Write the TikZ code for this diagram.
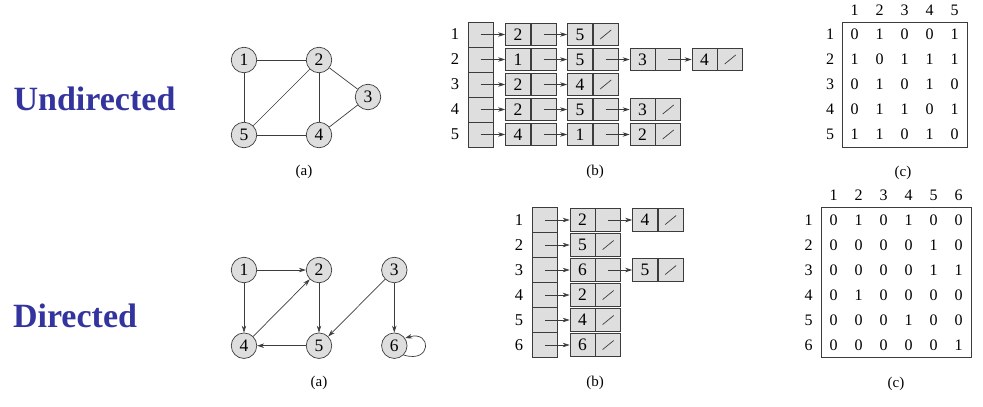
\documentclass[tikz,border=0pt]{standalone}
\usepackage{fontspec}
\setmainfont{Liberation Serif}
\usetikzlibrary{arrows.meta}
\definecolor{titleblue}{RGB}{52,52,158}
\definecolor{cellgray}{RGB}{222,222,222}
\definecolor{linegray}{RGB}{60,60,60}
\tikzset{
  vtx/.style={circle, draw=linegray, fill=cellgray, line width=0.7pt, minimum size=25.5pt, inner sep=0pt, font=\fontsize{17.5}{17.5}\selectfont},
  edg/.style={draw=linegray, line width=0.7pt},
  arr/.style={draw=linegray, line width=0.7pt, -{Stealth[length=7pt,width=4.5pt]}},
  lcell/.style={draw=linegray, fill=cellgray, line width=0.7pt, minimum width=25pt, minimum height=22.5pt, inner sep=0pt, font=\fontsize{17.5}{17.5}\selectfont},
  acell/.style={draw=linegray, fill=cellgray, line width=0.7pt, minimum width=25pt, minimum height=25pt, inner sep=0pt},
  slashline/.style={draw=linegray, line width=0.7pt},
  lbl/.style={font=\fontsize{16.5}{16.5}\selectfont, inner sep=0pt},
  mval/.style={font=\fontsize{16}{16}\selectfont, inner sep=0pt},
  captxt/.style={font=\fontsize{15}{15}\selectfont, inner sep=0pt},
  ttl/.style={font=\fontsize{34}{40}\selectfont\bfseries, text=titleblue, inner sep=0pt, anchor=base},
}
% list element: name, x of value cell center, y, value
\newcommand{\lstcell}[4]{%
  \node[lcell] (#1v) at (#2,#3) {#4};
  \node[lcell, anchor=west] (#1p) at (#1v.east) {};
}
\newcommand{\nilmark}[1]{\draw[slashline] (#1p.center) +(-5.5,4.5) -- +(5.5,-4.5);}
\begin{document}
\begin{tikzpicture}[x=1pt,y=-1pt]
\useasboundingbox (0,0) rectangle (983,407);

% ---------- titles ----------
\node[ttl] (tu) at (94.5,110.7) {Undirected};
\node[ttl] (td) at (75,327.7) {Directed};

% ---------- undirected graph ----------
\node[vtx] (u1) at (244,60) {1};
\node[vtx] (u2) at (319,60) {2};
\node[vtx] (u3) at (368,97) {3};
\node[vtx] (u5) at (244,135) {5};
\node[vtx] (u4) at (319,135) {4};
\draw[edg] (u1) -- (u2);
\draw[edg] (u1) -- (u5);
\draw[edg] (u2) -- (u5);
\draw[edg] (u2) -- (u4);
\draw[edg] (u2) -- (u3);
\draw[edg] (u3) -- (u4);
\draw[edg] (u5) -- (u4);
\node[captxt] (ua) at (304,172) {(a)};

% ---------- undirected adjacency list ----------
\foreach \r in {1,...,5}{
  \node[lbl] (ur\r) at (455,{9.5+25*\r}) {\r};
  \node[acell] (ua\r) at (480.5,{9.5+25*\r}) {};
}
\lstcell{ua1a}{518}{34.5}{2}
\lstcell{ua1b}{580}{34.5}{5}
\nilmark{ua1b}
\draw[arr] (ua1.center) -- (ua1av.west);
\draw[arr] (ua1ap.center) -- (ua1bv.west);

\lstcell{ua2a}{518}{59.5}{1}
\lstcell{ua2b}{580}{59.5}{5}
\lstcell{ua2c}{642.5}{59.5}{3}
\lstcell{ua2d}{704.5}{59.5}{4}
\nilmark{ua2d}
\draw[arr] (ua2.center) -- (ua2av.west);
\draw[arr] (ua2ap.center) -- (ua2bv.west);
\draw[arr] (ua2bp.center) -- (ua2cv.west);
\draw[arr] (ua2cp.center) -- (ua2dv.west);

\lstcell{ua3a}{518}{84.5}{2}
\lstcell{ua3b}{580}{84.5}{4}
\nilmark{ua3b}
\draw[arr] (ua3.center) -- (ua3av.west);
\draw[arr] (ua3ap.center) -- (ua3bv.west);

\lstcell{ua4a}{518}{109.5}{2}
\lstcell{ua4b}{580}{109.5}{5}
\lstcell{ua4c}{642.5}{109.5}{3}
\nilmark{ua4c}
\draw[arr] (ua4.center) -- (ua4av.west);
\draw[arr] (ua4ap.center) -- (ua4bv.west);
\draw[arr] (ua4bp.center) -- (ua4cv.west);

\lstcell{ua5a}{518}{134.5}{4}
\lstcell{ua5b}{580}{134.5}{1}
\lstcell{ua5c}{642.5}{134.5}{2}
\nilmark{ua5c}
\draw[arr] (ua5.center) -- (ua5av.west);
\draw[arr] (ua5ap.center) -- (ua5bv.west);
\draw[arr] (ua5bp.center) -- (ua5cv.west);
\node[captxt] (ub) at (595,172) {(b)};

% ---------- undirected matrix ----------
\foreach \c in {1,...,5}{
  \node[mval] (uh\c) at ({829.5+25*\c},10) {\c};
}
\foreach \row [count=\r] in {{0,1,0,0,1},{1,0,1,1,1},{0,1,0,1,0},{0,1,1,0,1},{1,1,0,1,0}}{
  \node[mval] (umr\r) at (830,{9.5+25*\r}) {\r};
  \foreach \v [count=\c] in \row {
    \node[mval] (um\r-\c) at ({829.5+25*\c},{9.5+25*\r}) {\v};
  }
}
\draw[edg] (842,22) rectangle (967,147);
\node[captxt] (uc) at (903,173) {(c)};

% ---------- directed graph ----------
\node[vtx] (d1) at (244,270) {1};
\node[vtx] (d2) at (319,270) {2};
\node[vtx] (d3) at (394.3,270) {3};
\node[vtx] (d4) at (244,345.7) {4};
\node[vtx] (d5) at (319,345.7) {5};
\node[vtx] (d6) at (394.3,345.7) {6};
\draw[arr] (d1) -- (d2);
\draw[arr] (d1) -- (d4);
\draw[arr] (d2) -- (d5);
\draw[arr] (d4) -- (d2);
\draw[arr] (d5) -- (d4);
\draw[arr] (d3) -- (d5);
\draw[arr] (d3) -- (d6);
\draw[arr] (d6.-45) .. controls (432,364) and (432,330) .. (d6.35);
\node[captxt] (da) at (319,383) {(a)};

% ---------- directed adjacency list ----------
\foreach \r in {1,...,6}{
  \node[lbl] (dr\r) at (519,{195+25*\r}) {\r};
  \node[acell] (da\r) at (545,{195+25*\r}) {};
}
\lstcell{da1a}{582.5}{220}{2}
\lstcell{da1b}{645}{220}{4}
\nilmark{da1b}
\draw[arr] (da1.center) -- (da1av.west);
\draw[arr] (da1ap.center) -- (da1bv.west);

\lstcell{da2a}{582.5}{245}{5}
\nilmark{da2a}
\draw[arr] (da2.center) -- (da2av.west);

\lstcell{da3a}{582.5}{270}{6}
\lstcell{da3b}{645}{270}{5}
\nilmark{da3b}
\draw[arr] (da3.center) -- (da3av.west);
\draw[arr] (da3ap.center) -- (da3bv.west);

\lstcell{da4a}{582.5}{295}{2}
\nilmark{da4a}
\draw[arr] (da4.center) -- (da4av.west);

\lstcell{da5a}{582.5}{320}{4}
\nilmark{da5a}
\draw[arr] (da5.center) -- (da5av.west);

\lstcell{da6a}{582.5}{345}{6}
\nilmark{da6a}
\draw[arr] (da6.center) -- (da6av.west);
\node[captxt] (db) at (595,383) {(b)};

% ---------- directed matrix ----------
\foreach \c in {1,...,6}{
  \node[mval] (dh\c) at ({808.5+25*\c},195) {\c};
}
\foreach \row [count=\r] in {{0,1,0,1,0,0},{0,0,0,0,1,0},{0,0,0,0,1,1},{0,1,0,0,0,0},{0,0,0,1,0,0},{0,0,0,0,0,1}}{
  \node[mval] (dmr\r) at (808.5,{195+25*\r}) {\r};
  \foreach \v [count=\c] in \row {
    \node[mval] (dm\r-\c) at ({808.5+25*\c},{195+25*\r}) {\v};
  }
}
\draw[edg] (821,207.5) rectangle (971,357.5);
\node[captxt] (dc) at (896,384) {(c)};
\end{tikzpicture}
\end{document}
